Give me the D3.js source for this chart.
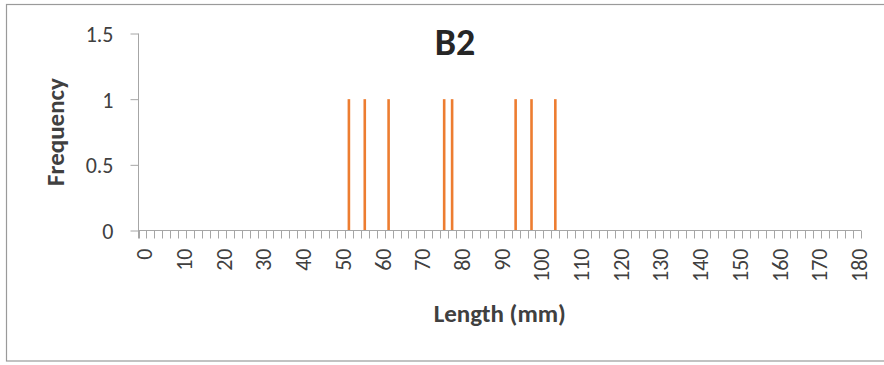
<!DOCTYPE html>
<html>
<head>
<meta charset="utf-8">
<script src="https://cdn.jsdelivr.net/npm/d3@7"></script>
<style>
  html, body { margin: 0; padding: 0; background: #fff; }
  svg { display: block; }
  text { font-family: Carlito, Calibri, Lato, sans-serif; }
</style>
</head>
<body>
<svg id="chart" width="884" height="365"></svg>
<script>
// Length bins (mm), one bar per bin
const bins = [
  0, 2, 4, 6, 8, 10, 12, 14, 16, 18,
  20, 22, 24, 26, 28, 30, 32, 34, 36, 38,
  40, 42, 44, 46, 48, 50, 52, 54, 56, 58,
  60, 62, 64, 66, 68, 70, 72, 74, 76, 78,
  80, 82, 84, 86, 88, 90, 92, 94, 96, 98,
  100, 102, 104, 106, 108, 110, 112, 114, 116, 118,
  120, 122, 124, 126, 128, 130, 132, 134, 136, 138,
  140, 142, 144, 146, 148, 150, 152, 154, 156, 158,
  160, 162, 164, 166, 168, 170, 172, 174, 176, 178,
  180
];

// Frequency per bin for sample B2
const frequency = [
  0, 0, 0, 0, 0, 0, 0, 0, 0, 0,
  0, 0, 0, 0, 0, 0, 0, 0, 0, 0,
  0, 0, 0, 0, 0, 0, 1, 0, 1, 0,
  0, 1, 0, 0, 0, 0, 0, 0, 1, 1,
  0, 0, 0, 0, 0, 0, 0, 1, 0, 1,
  0, 0, 1, 0, 0, 0, 0, 0, 0, 0,
  0, 0, 0, 0, 0, 0, 0, 0, 0, 0,
  0, 0, 0, 0, 0, 0, 0, 0, 0, 0,
  0, 0, 0, 0, 0, 0, 0, 0, 0, 0,
  0
];

const yTicks = [0, 0.5, 1, 1.5];
const xLabelEvery = 5;   // label every 5th bin (every 10 mm)

const title = "B2";
const xTitle = "Length (mm)";
const yTitle = "Frequency";

const svg = d3.select("#chart");

// chart frame
svg.append("rect")
  .attr("x", 6.5).attr("y", 4.5)
  .attr("width", 900).attr("height", 356.5)
  .attr("fill", "#fff")
  .attr("stroke", "#9a9a9a")
  .attr("stroke-width", 1.2);

const plot = { left: 138.5, right: 861, top: 33.5, bottom: 230.5 };

const x = d3.scaleBand()
  .domain(bins)
  .range([plot.left, plot.right])
  .paddingInner(0).paddingOuter(0);

const y = d3.scaleLinear()
  .domain([0, 1.5])
  .range([plot.bottom, plot.top]);

const axisColor = "#a6a6a6";
const tickText = "#404040";

// bars
const barW = 2.6;
svg.append("g")
  .selectAll("rect")
  .data(bins.map((b, i) => ({ bin: b, value: frequency[i] })).filter(d => d.value > 0))
  .join("rect")
  .attr("x", d => x(d.bin) + x.bandwidth() / 2 - barW / 2)
  .attr("y", d => y(d.value))
  .attr("width", barW)
  .attr("height", d => y(0) - y(d.value))
  .attr("fill", "#ED7D31");

// y axis
const yAxis = svg.append("g")
  .attr("transform", `translate(${plot.left},0)`)
  .call(d3.axisLeft(y).tickValues(yTicks).tickSize(8).tickPadding(17)
    .tickFormat(d => d3.format("")(d)));
yAxis.select(".domain").attr("stroke", axisColor).attr("d", `M0,${plot.top}V${plot.bottom + 8}`);
yAxis.selectAll(".tick line").attr("stroke", axisColor);
yAxis.selectAll(".tick text")
  .attr("fill", tickText)
  .attr("font-size", 22)
  .attr("dy", "0.36em");

// x axis: tick marks on bin boundaries, labels every 10 mm
const xg = svg.append("g").attr("transform", `translate(0,${plot.bottom})`);
xg.append("line")
  .attr("x1", plot.left).attr("x2", plot.right)
  .attr("stroke", axisColor);
const edges = bins.map(b => x(b)).concat([x(bins[bins.length - 1]) + x.bandwidth()]);
xg.selectAll("line.tk")
  .data(edges)
  .join("line")
  .attr("class", "tk")
  .attr("x1", d => Math.round(d) + 0.5).attr("x2", d => Math.round(d) + 0.5)
  .attr("y1", 0).attr("y2", 8)
  .attr("stroke", axisColor);
xg.selectAll("text.lbl")
  .data(bins.filter((b, i) => i % xLabelEvery === 0))
  .join("text")
  .attr("class", "lbl")
  .attr("transform", d => `translate(${x(d) + x.bandwidth() / 2},18) rotate(-90)`)
  .attr("text-anchor", "end")
  .attr("dy", "0.45em")
  .attr("font-size", 22)
  .attr("fill", tickText)
  .text(d => d);

// titles
svg.append("text")
  .attr("x", 455).attr("y", 54.5)
  .attr("text-anchor", "middle")
  .attr("font-size", 38).attr("font-weight", "bold")
  .attr("fill", "#262626")
  .text(title);

svg.append("text")
  .attr("x", (plot.left + plot.right) / 2).attr("y", 321.5)
  .attr("text-anchor", "middle")
  .attr("font-size", 25).attr("font-weight", "bold")
  .attr("fill", "#404040")
  .text(xTitle);

svg.append("text")
  .attr("transform", `translate(63.5,${(plot.top + plot.bottom) / 2}) rotate(-90)`)
  .attr("text-anchor", "middle")
  .attr("font-size", 25).attr("font-weight", "bold")
  .attr("fill", "#404040")
  .text(yTitle);
</script>
</body>
</html>
